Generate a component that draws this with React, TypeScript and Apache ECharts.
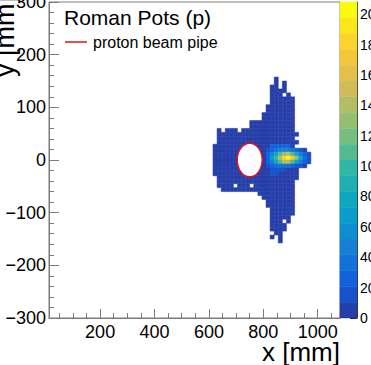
import React, { useEffect, useRef } from 'react';
import * as echarts from 'echarts';

// ---- axis data ----
const xRange = [12, 1082];
const yRange = [-300, 300];
const xTickValues = [200, 400, 600, 800, 1000];
const xMinorTickValues = [50, 100, 150, 250, 300, 350, 450, 500, 550, 650, 700, 750, 850, 900, 950, 1050];
const yTickStep = 100;
const zMax = 208;
const zTickStep = 20;
const nContours = 20;

// ---- histogram binning (mm) ----
const xBinStart = 615;
const xBinWidth = 15;
const yBinTop = 157.5;
const yBinHeight = 7.5;

// count per character code
const countCodes: Record<string, number> = {
  '.': 0, '1': 5, '2': 15, '3': 25, '4': 35, '5': 50, '6': 65, '7': 80,
  '8': 95, '9': 110, 'a': 125, 'b': 140, 'c': 155, 'd': 170, 'e': 185, 'f': 200,
};

// occupancy rows, top (y = +157.5) to bottom, columns from x = 615 mm
const occupancyRows = [
  '...............1........',
  '...............1.1......',
  '..............11.1......',
  '..............1111......',
  '..............111.1.....',
  '..............111111....',
  '..............111111....',
  '.............1111111....',
  '.............1111111....',
  '............11111111....',
  '............11111111....',
  '.........11111111111....',
  '.........11111111111....',
  '.1.111.1111111111111....',
  '.11111111111111111111...',
  '.1111111111111111111....',
  '.11111111111111111111...',
  '11111111111111333331....',
  '11111111111112345554321.',
  '11111111111113579ab97532',
  '1111111111111368befda742',
  '11111111111113579bb97532',
  '11111111111112344443221.',
  '111111111111112222111...',
  '111111111111112211111...',
  '.11111111111111111111...',
  '.1111111111111111111....',
  '.1111.111.1111111111....',
  '..111111111111111111....',
  '...........111111111....',
  '............11111111....',
  '.............1111111....',
  '.............1111111....',
  '..............111111....',
  '..............111111....',
  '..............11111.....',
  '..............111.1.....',
  '..............1111......',
  '..............1111......',
  '...............11.......',
  '..............1.1.......',
  '................1.......',
];

// beam pipe ellipse: centre x, centre y, semi-axis x, semi-axis y (mm)
const beamPipe = [[750, 0, 46, 32]];

// ROOT kBird palette stops
const birdStops = [0.0, 0.125, 0.25, 0.375, 0.5, 0.625, 0.75, 0.875, 1.0];
const birdRed = [0.2082, 0.0592, 0.078, 0.0232, 0.1802, 0.5301, 0.8186, 0.9956, 0.9764];
const birdGreen = [0.1664, 0.3599, 0.5041, 0.6419, 0.7178, 0.7492, 0.7328, 0.7862, 0.9832];
const birdBlue = [0.5293, 0.8684, 0.8385, 0.7914, 0.6425, 0.4662, 0.3499, 0.1968, 0.0539];

function birdColor(f: number): string {
  let i = 0;
  while (i < birdStops.length - 2 && f > birdStops[i + 1]) i++;
  const t = (f - birdStops[i]) / (birdStops[i + 1] - birdStops[i]);
  const c = (a: number[]) => Math.round(255 * (a[i] + t * (a[i + 1] - a[i])));
  return `rgb(${c(birdRed)},${c(birdGreen)},${c(birdBlue)})`;
}
function levelColor(k: number): string {
  return birdColor((k + 0.99) / nContours);
}
function valueLevel(v: number): number {
  return Math.min(nContours - 1, Math.floor(v / (zMax / nContours)));
}

const FONT = '"Liberation Sans", Arial, Helvetica, sans-serif';
const axisGray = '#7c7c7c';

export default function App() {
  const ref = useRef<HTMLDivElement>(null);
  useEffect(() => {
    if (!ref.current) return;
    const chart = echarts.init(ref.current, undefined, { renderer: 'svg' });

    const cells: number[][] = [];
    occupancyRows.forEach((row, j) => {
      for (let i = 0; i < row.length; i++) {
        const v = countCodes[row[i]] || 0;
        if (v > 0) cells.push([xBinStart + i * xBinWidth, yBinTop - (j + 1) * yBinHeight, v]);
      }
    });
    const bands = Array.from({ length: nContours }, (_, k) => [0, k]);
    const bandStep = zMax / nContours;

    const option: any = {
      animation: false,
      backgroundColor: '#fff',
      grid: [
        { left: 49, top: 2, width: 291, height: 316, show: true, borderColor: axisGray, borderWidth: 1, outerBoundsMode: 'none', containLabel: false },
        { left: 340, top: 2, width: 17, height: 316, outerBoundsMode: 'none', containLabel: false },
      ],
      xAxis: [
        {
          gridIndex: 0, type: 'value', min: xRange[0], max: xRange[1], position: 'bottom', offset: 0,
          axisLine: { show: true, onZero: false, lineStyle: { color: axisGray } },
          axisTick: { show: true, inside: true, length: 9, customValues: xTickValues, lineStyle: { color: axisGray } },
          axisLabel: { customValues: xTickValues, fontSize: 18, fontFamily: FONT, color: '#000', margin: 5, formatter: (v: number) => String(v) },
          splitLine: { show: false },
        },
        {
          gridIndex: 0, type: 'value', min: xRange[0], max: xRange[1], position: 'bottom', offset: 0,
          axisLine: { show: false, onZero: false },
          axisTick: { show: true, inside: true, length: 5, customValues: xMinorTickValues, lineStyle: { color: axisGray } },
          axisLabel: { show: false },
          splitLine: { show: false },
        },
        { gridIndex: 1, type: 'value', min: 0, max: 1, show: false },
      ],
      yAxis: [
        {
          gridIndex: 0, type: 'value', min: yRange[0], max: yRange[1], interval: yTickStep,
          axisLine: { show: true, onZero: false, lineStyle: { color: axisGray } },
          axisTick: { show: true, inside: true, length: 10, lineStyle: { color: axisGray } },
          minorTick: { show: true, splitNumber: 5, length: 5, lineStyle: { color: axisGray } },
          axisLabel: {
            fontSize: 18, fontFamily: FONT, color: '#000', margin: 3, showMaxLabel: true, showMinLabel: true,
            formatter: (v: number) => String(v).replace('-', '\u2212'),
          },
          splitLine: { show: false },
        },
        {
          gridIndex: 1, type: 'value', min: 0, max: zMax, interval: zTickStep, position: 'right',
          axisLine: { show: true, onZero: false, lineStyle: { color: '#333' } },
          axisTick: { show: true, inside: true, length: 7, lineStyle: { color: '#222' } },
          axisLabel: { fontSize: 14, fontFamily: FONT, color: '#000', margin: 3, formatter: (v: number) => String(v) },
          splitLine: { show: false },
        },
      ],
      series: [
        {
          type: 'custom', xAxisIndex: 0, yAxisIndex: 0, data: cells, z: 2, clip: true,
          renderItem: (_p: any, api: any) => {
            const x0 = api.value(0), y0 = api.value(1), v = api.value(2);
            const p = api.coord([x0, y0 + yBinHeight]);
            const s = api.size([xBinWidth, yBinHeight]);
            const col = levelColor(valueLevel(v));
            return {
              type: 'rect',
              shape: { x: p[0], y: p[1], width: s[0], height: s[1] },
              style: { fill: col, stroke: col, lineWidth: 0.5 },
            };
          },
        },
        {
          type: 'custom', xAxisIndex: 0, yAxisIndex: 0, data: beamPipe, z: 3,
          renderItem: (_p: any, api: any) => {
            const c = api.coord([api.value(0), api.value(1)]);
            const s = api.size([api.value(2), api.value(3)]);
            return {
              type: 'ellipse',
              shape: { cx: c[0], cy: c[1], rx: s[0], ry: s[1] },
              style: { fill: '#fff', stroke: '#e0151b', lineWidth: 1.5 },
            };
          },
        },
        {
          type: 'custom', xAxisIndex: 2, yAxisIndex: 1, data: bands, z: 2,
          renderItem: (_p: any, api: any) => {
            const k = api.value(1);
            const tl = api.coord([0, (k + 1) * bandStep]);
            const br = api.coord([1, k * bandStep]);
            const col = levelColor(k);
            return {
              type: 'rect',
              shape: { x: tl[0], y: tl[1], width: br[0] - tl[0], height: br[1] - tl[1] },
              style: { fill: col, stroke: col, lineWidth: 0.5 },
            };
          },
        },
      ],
      graphic: [
        {
          type: 'text', x: 64, y: 17, z: 10,
          style: { text: 'Roman Pots (p)', font: `21px ${FONT}`, fill: '#000', align: 'left', verticalAlign: 'middle', textAlign: 'left', textVerticalAlign: 'middle' },
        },
        {
          type: 'line', z: 10,
          shape: { x1: 65, y1: 42, x2: 87, y2: 42 },
          style: { stroke: '#e0151b', lineWidth: 1.5 },
        },
        {
          type: 'text', x: 93, y: 42, z: 10,
          style: { text: 'proton beam pipe', font: `16px ${FONT}`, fill: '#000', align: 'left', verticalAlign: 'middle', textAlign: 'left', textVerticalAlign: 'middle' },
        },
        {
          type: 'text', x: 340, y: 352, z: 10,
          style: { text: 'x [mm]', font: `26px ${FONT}`, fill: '#000', align: 'right', verticalAlign: 'middle', textAlign: 'right', textVerticalAlign: 'middle' },
        },
        {
          type: 'text', x: 5, y: -4, rotation: Math.PI / 2, z: 10,
          style: { text: 'y [mm]', font: `27px ${FONT}`, fill: '#000', align: 'right', verticalAlign: 'middle', textAlign: 'right', textVerticalAlign: 'middle' },
        },
      ],
    };
    chart.setOption(option);
    return () => chart.dispose();
  }, []);
  return <div ref={ref} style={{ position: 'fixed', left: 0, top: 0, width: 371, height: 365 }} />;
}
